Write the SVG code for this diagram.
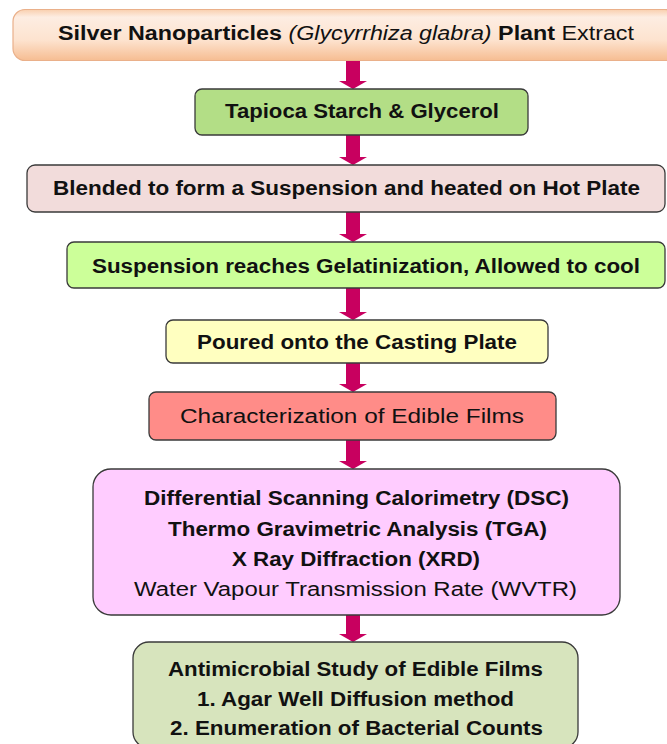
<svg xmlns="http://www.w3.org/2000/svg" width="667" height="744" viewBox="0 0 667 744">
<defs>
<linearGradient id="peach" x1="0" y1="0" x2="0" y2="1">
<stop offset="0" stop-color="#f9cfae"/>
<stop offset="0.15" stop-color="#fdede2"/>
<stop offset="0.6" stop-color="#fde3cf"/>
<stop offset="1" stop-color="#f6bd92"/>
</linearGradient>
<style>
.box{stroke:#3a3a3a;stroke-width:1.3}
.t{font-family:"Liberation Sans",Arial,sans-serif;font-size:20px;fill:#111;text-anchor:middle}
.b{font-weight:bold}
.arr{fill:#c8005f}
</style>
<symbol id="arrow" overflow="visible">
<path class="arr" d="M-7,0 H7 V-8 H14 L0,0 Z"/>
</symbol>
</defs>
<rect width="667" height="744" fill="#ffffff"/>

<g id="connectors">
<path class="arr" d="M346,61 H360 V81 H367 L353,89 L339,81 H346 Z"/>
<path class="arr" d="M346,135 H360 V157 H367 L353,165 L339,157 H346 Z"/>
<path class="arr" d="M346,212 H360 V234 H367 L353,242 L339,234 H346 Z"/>
<path class="arr" d="M346,288 H360 V312 H367 L353,320 L339,312 H346 Z"/>
<path class="arr" d="M346,363 H360 V384 H367 L353,392 L339,384 H346 Z"/>
<path class="arr" d="M346,440 H360 V461 H367 L353,469 L339,461 H346 Z"/>
<path class="arr" d="M346,615 H360 V634 H367 L353,642 L339,634 H346 Z"/>
</g>

<g id="n1">
<rect x="13" y="9.5" width="664" height="51" rx="12" fill="url(#peach)" stroke="#eab08a" stroke-width="1.2"/>
<text class="t" x="346" y="40" textLength="576" lengthAdjust="spacingAndGlyphs"><tspan class="b">Silver Nanoparticles </tspan><tspan font-style="italic">(Glycyrrhiza glabra)</tspan><tspan class="b"> Plant</tspan> Extract</text>
</g>

<g id="n2">
<rect class="box" x="195" y="89" width="333" height="46" rx="7" fill="#b3de86"/>
<text class="t b" x="362" y="118" textLength="274" lengthAdjust="spacingAndGlyphs">Tapioca Starch &amp; Glycerol</text>
</g>

<g id="n3">
<rect class="box" x="27" y="165" width="638" height="47" rx="8" fill="#f2dcdb"/>
<text class="t b" x="346.5" y="195" textLength="587" lengthAdjust="spacingAndGlyphs">Blended to form a Suspension and heated on Hot Plate</text>
</g>

<g id="n4">
<rect class="box" x="67" y="242" width="598" height="46" rx="7" fill="#ccff99"/>
<text class="t b" x="366" y="273" textLength="548" lengthAdjust="spacingAndGlyphs">Suspension reaches Gelatinization, Allowed to cool</text>
</g>

<g id="n5">
<rect class="box" x="166" y="320" width="382" height="43" rx="7" fill="#ffffc0"/>
<text class="t b" x="357" y="349" textLength="320" lengthAdjust="spacingAndGlyphs">Poured onto the Casting Plate</text>
</g>

<g id="n6">
<rect class="box" x="149" y="392" width="407" height="48" rx="7" fill="#ff8c88"/>
<text class="t" x="352" y="423" textLength="344" lengthAdjust="spacingAndGlyphs">Characterization of Edible Films</text>
</g>

<g id="n7">
<rect class="box" x="93" y="469" width="527" height="146" rx="18" fill="#ffccff"/>
<text class="t b" x="356.5" y="505" textLength="425" lengthAdjust="spacingAndGlyphs">Differential Scanning Calorimetry (DSC)</text>
<text class="t b" x="357.5" y="536" textLength="379" lengthAdjust="spacingAndGlyphs">Thermo Gravimetric Analysis (TGA)</text>
<text class="t b" x="356" y="566" textLength="248" lengthAdjust="spacingAndGlyphs">X Ray Diffraction (XRD)</text>
<text class="t" x="355.5" y="596" textLength="443" lengthAdjust="spacingAndGlyphs">Water Vapour Transmission Rate (WVTR)</text>
</g>

<g id="n8">
<rect class="box" x="133" y="642" width="445" height="106" rx="16" fill="#d7e4bd"/>
<text class="t b" x="355.5" y="676" textLength="375" lengthAdjust="spacingAndGlyphs">Antimicrobial Study of Edible Films</text>
<text class="t b" x="355.5" y="706" textLength="317" lengthAdjust="spacingAndGlyphs">1. Agar Well Diffusion method</text>
<text class="t b" x="356.5" y="735" textLength="373" lengthAdjust="spacingAndGlyphs">2. Enumeration of Bacterial Counts</text>
</g>
</svg>
